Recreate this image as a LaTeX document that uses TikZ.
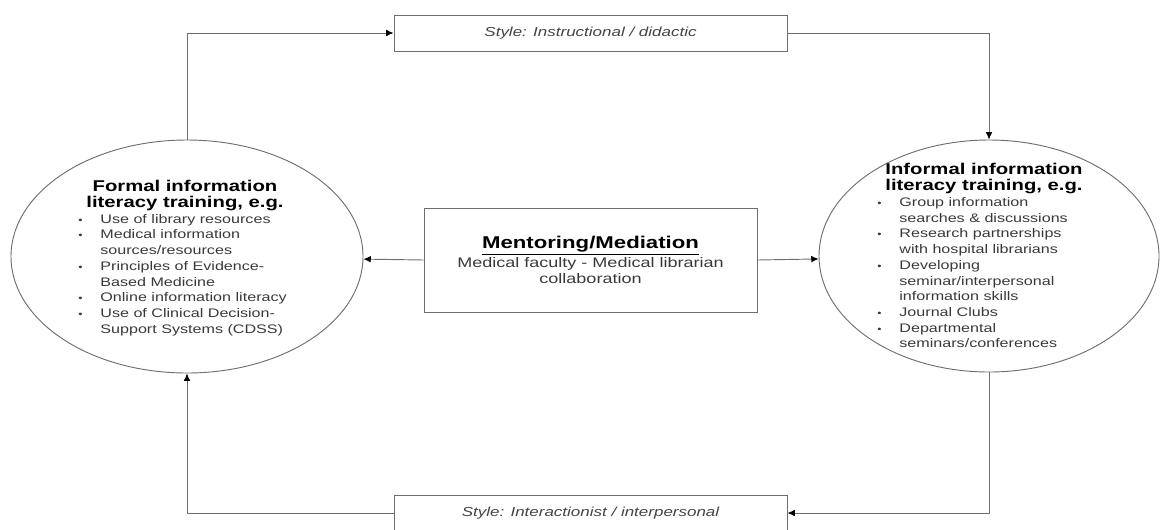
\documentclass[tikz,border=0pt]{standalone}
\usepackage{fontspec}
\setmainfont[FakeStretch=1.3]{Liberation Sans}
\usetikzlibrary{shapes.geometric,arrows.meta}
\definecolor{linegray}{HTML}{6E6E6E}
\definecolor{itemtext}{HTML}{3C3838}
\definecolor{styletext}{HTML}{454545}
\newcommand{\bul}{\makebox[16.5pt][l]{\scriptsize\textbullet}}
\newcommand{\ovaltitle}[1]{\multicolumn{2}{c}{\fontsize{11.7}{12.75}\selectfont\bfseries\color{black}#1}}

\begin{document}
\begin{tikzpicture}[x=0.75pt, y=-0.75pt, >={Latex[length=5.5pt,width=5pt,color=black]},
    conn/.style = {draw=linegray, line width=0.7pt},
    oval/.style = {draw=linegray, line width=0.7pt, ellipse, inner sep=0pt},
    listtext/.style = {inner sep=0pt, text=itemtext, font=\fontsize{9.3}{11.8}\selectfont},
    stylebox/.style = {draw=linegray, line width=0.7pt, fill=white, minimum width=294.75pt, minimum height=27pt, inner sep=0pt, text=styletext, font=\fontsize{9.8}{12}\selectfont\itshape},
    midbox/.style = {draw=linegray, line width=0.7pt, minimum width=249.75pt, minimum height=78pt, inner sep=0pt, align=center, text=itemtext}]
  \clip (0,0) rectangle (1170,529);
  % style boxes top and bottom
  \node[stylebox] (instr) at (590.5,33) {Style: Instructional / didactic};
  \node[stylebox] (inter) at (590.5,513) {Style: Interactionist / interpersonal};
  % the two kinds of training
  \node[oval, minimum width=264pt, minimum height=174.75pt] (formal) at (187,256.5) {};
  \node[oval, minimum width=255pt, minimum height=174pt] (informal) at (989,256) {};
  \node[listtext] (formaltext) at (185,259) {%
    \begin{tabular}{@{}l@{}l@{}}
      \ovaltitle{Formal information}\\
      \ovaltitle{literacy training, e.g.}\\
      \bul & Use of library resources\\
      \bul & Medical information\\
           & sources/resources\\
      \bul & Principles of Evidence-\\
           & Based Medicine\\
      \bul & Online information literacy\\
      \bul & Use of Clinical Decision-\\
           & Support Systems (CDSS)
    \end{tabular}};
  \node[listtext] (informaltext) at (984,258) {%
    \begin{tabular}{@{}l@{}l@{}}
      \ovaltitle{Informal information}\\
      \ovaltitle{literacy training, e.g.}\\
      \bul & Group information\\
           & searches \& discussions\\
      \bul & Research partnerships\\
           & with hospital librarians\\
      \bul & Developing\\
           & seminar/interpersonal\\
           & information skills\\
      \bul & Journal Clubs\\
      \bul & Departmental\\
           & seminars/conferences
    \end{tabular}};
  % mediation in the middle
  \node[midbox] (mentor) at (590.5,260) {%
    \fontsize{12.8}{14}\selectfont\bfseries\textcolor{black}{\underline{Mentoring/Mediation}}\\[1pt]
    \fontsize{10.4}{12.75}\selectfont\mdseries Medical faculty - Medical librarian\\
    \fontsize{10.4}{12.75}\selectfont\mdseries collaboration};
  \draw[conn,->] (formal.north) |- (instr.west);
  \draw[conn,->] (instr.east) -| (informal.north);
  \draw[conn,->] (informal.south) |- (inter.east);
  \draw[conn,->] (inter.west) -| (formal.south);
  \draw[conn,->] (mentor.west) -- (formal);
  \draw[conn,->] (mentor.east) -- (informal);
\end{tikzpicture}
\end{document}
